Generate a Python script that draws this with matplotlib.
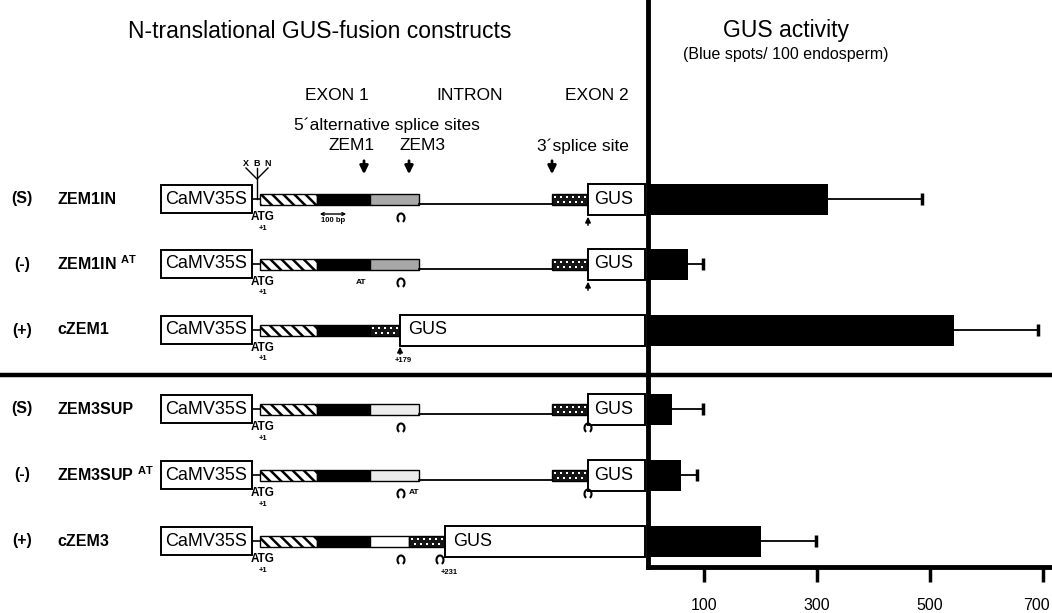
import numpy as np
import matplotlib.pyplot as plt
import matplotlib.transforms as mtransforms
from matplotlib.patches import Rectangle, Arc

plt.rcParams['font.family'] = ['Liberation Sans', 'DejaVu Sans']
plt.rcParams['mathtext.fontset'] = 'custom'
plt.rcParams['mathtext.rm'] = 'Liberation Sans'
plt.rcParams['mathtext.bf'] = 'Liberation Sans:bold'
plt.rcParams['hatch.linewidth'] = 1.8

# data
constructs = ["ZEM1IN", "ZEM1IN", "cZEM1", "ZEM3SUP", "ZEM3SUP", "cZEM3"]
superscripts = ["", "AT", "", "", "AT", ""]
phenotypes = ["(S)", "(-)", "(+)", "(S)", "(-)", "(+)"]
gus_activity = [320, 72, 542, 44, 60, 200]
gus_error = [165, 26, 150, 54, 27, 98]
xticks = [100, 300, 500, 700]

W, H = 1052, 613
fig = plt.figure(figsize=(W / 100, H / 100), dpi=100)
ax = fig.add_axes([0, 0, 1, 1])
ax.set_xlim(0, W)
ax.set_ylim(H, 0)
ax.axis("off")

# layout (pixels from top-left)
row_y = [199, 264, 330, 409, 475, 541]
x_zero, px_per_unit, x_end, axis_y = 647.5, 0.565, 1051, 567
bar_h = 31


def rect(x0, x1, yc, h, **kw):
    ax.add_patch(Rectangle((x0, yc - h / 2), x1 - x0, h, **kw))


def checker(x0, x1, yc, h=11):
    rect(x0, x1, yc, h, facecolor="#161616", edgecolor="black", lw=1)
    for k, dy in enumerate([-2.5, 2.5]):
        xs = np.arange(x0 + 3 + 3 * k, x1 - 2, 6)
        ax.scatter(xs, np.full(len(xs), yc + dy), marker="s", s=3, color="white",
                   linewidths=0, zorder=3)


def splice_mark(x, y):
    ax.add_patch(Arc((x, y), 7, 9, theta1=115, theta2=65, color="black", lw=1.5))


def up_arrow(x, y0, y1):
    ax.annotate("", xy=(x, y1), xytext=(x, y0),
                arrowprops=dict(arrowstyle="-|>", color="black", lw=1.1, mutation_scale=8))


# headers
ax.text(320, 32, "N-translational GUS-fusion constructs", fontsize=16.5, ha="center", va="center")
ax.text(786, 30, "GUS activity", fontsize=16.5, ha="center", va="center")
ax.text(786, 55, "(Blue spots/ 100 endosperm)", fontsize=11.5, ha="center", va="center")
for lbl, x in [("EXON 1", 337), ("INTRON", 470), ("EXON 2", 597)]:
    ax.text(x, 95, lbl, fontsize=12.5, ha="center", va="center")
ax.text(387, 125, "5\u00b4alternative splice sites", fontsize=12.5, ha="center", va="center")
ax.text(352, 146, "ZEM1", fontsize=12.5, ha="center", va="center")
ax.text(422, 146, "ZEM3", fontsize=12.5, ha="center", va="center")
ax.text(583, 146, "3\u00b4splice site", fontsize=12.5, ha="center", va="center")
for x in [364, 409, 552]:
    ax.annotate("", xy=(x, 177), xytext=(x, 158),
                arrowprops=dict(arrowstyle="-|>", color="black", lw=2, mutation_scale=12))

# X B N polylinker
for lbl, x in [("X", 246), ("B", 257), ("N", 268)]:
    ax.text(x, 163, lbl, fontsize=6.5, fontweight="bold", ha="center", va="center")
ax.plot([246, 257, 268], [168, 179, 168], color="black", lw=1)
ax.plot([257, 257], [168, row_y[0]], color="black", lw=1)

# separator
ax.plot([0, W], [375, 375], color="black", lw=3.2, solid_capstyle="butt")

for i, yc in enumerate(row_y):
    ax.text(22, yc, phenotypes[i], fontsize=11.5, fontweight="bold", ha="center", va="center")
    name = constructs[i]
    if superscripts[i]:
        name = name + r" $^{\mathbf{" + superscripts[i] + "}}$"
    ax.text(57, yc, name, fontsize=11.5, fontweight="bold", ha="left", va="center")

    # promoter
    rect(161, 252, yc, 28, facecolor="white", edgecolor="black", lw=1.4)
    ax.text(206, yc, "CaMV35S", fontsize=13, ha="center", va="center")
    ax.plot([252, 260], [yc, yc], color="black", lw=1.2)
    ax.text(263, yc + 18, "ATG", fontsize=8.5, fontweight="bold", ha="center", va="center")
    ax.text(263, yc + 29, "+1", fontsize=5.5, fontweight="bold", ha="center", va="center")

    # exon 1
    rect(260, 317, yc, 11, facecolor="white", edgecolor="black", hatch="\\\\\\", lw=1)
    rect(317, 370, yc, 11, facecolor="black", edgecolor="black", lw=1)

    if constructs[i].startswith("c"):
        if i == 2:
            checker(370, 400, yc)
            gus_x0 = 400
            up_arrow(400, yc + 27, yc + 14)
            ax.text(403, yc + 31, "+179", fontsize=5.5, fontweight="bold", ha="center", va="center")
        else:
            rect(370, 409, yc, 11, facecolor="white", edgecolor="black", lw=1)
            checker(409, 445, yc)
            gus_x0 = 445
            splice_mark(401, yc + 19)
            splice_mark(440, yc + 19)
            ax.text(449, yc + 31, "+231", fontsize=5.5, fontweight="bold", ha="center", va="center")
        rect(gus_x0, 645, yc, bar_h, facecolor="white", edgecolor="black", lw=1.4)
        ax.text(gus_x0 + 8, yc, "GUS", fontsize=13, ha="left", va="center")
    else:
        shade = "#a8a8a8" if i < 2 else "#ececec"
        rect(370, 419, yc, 11, facecolor=shade, edgecolor="black", lw=1)
        ax.plot([419, 552], [yc + 5, yc + 5], color="black", lw=1.3)
        checker(552, 588, yc)
        rect(588, 645, yc, bar_h, facecolor="white", edgecolor="black", lw=1.4)
        ax.text(614, yc, "GUS", fontsize=13, ha="center", va="center")
        splice_mark(401, yc + 19)
        if i < 2:
            up_arrow(588, yc + 29, yc + 15)
        else:
            splice_mark(588, yc + 19)
        if superscripts[i] == "AT":
            ax.text(361 if i < 2 else 414, yc + 18, "AT", fontsize=6,
                    fontweight="bold", ha="center", va="center")
        if i == 0:
            ax.annotate("", xy=(349, yc + 15), xytext=(317, yc + 15),
                        arrowprops=dict(arrowstyle="<->", color="black", lw=1, mutation_scale=5))
            ax.text(333, yc + 22, "100 bp", fontsize=5.5, fontweight="bold", ha="center", va="center")

# GUS activity bar chart
bx = fig.add_axes([x_zero / W, (H - axis_y) / H, (x_end - x_zero) / W, axis_y / H])
bx.patch.set_visible(False)
bx.set_xlim(0, (x_end - x_zero) / px_per_unit)
bx.set_ylim(axis_y, 0)
bx.barh(row_y, gus_activity, height=bar_h, color="black")
_, caps, _ = bx.errorbar(gus_activity, row_y, xerr=[[0] * len(gus_error), gus_error], fmt="none",
                         ecolor="black", elinewidth=1.3, capsize=4, capthick=2.5)
caps[0].set_visible(False)
for s in ["top", "right"]:
    bx.spines[s].set_visible(False)
for s in ["left", "bottom"]:
    bx.spines[s].set_linewidth(3.5)
bx.set_yticks([])
bx.set_xticks(xticks)
bx.tick_params(axis="x", length=11, width=2.5, pad=11, labelsize=11.5)
last = bx.get_xticklabels()[-1]
last.set_transform(last.get_transform() + mtransforms.ScaledTranslation(-7 / 100, 0, fig.dpi_scale_trans))

fig.savefig("out.png", dpi=100)
